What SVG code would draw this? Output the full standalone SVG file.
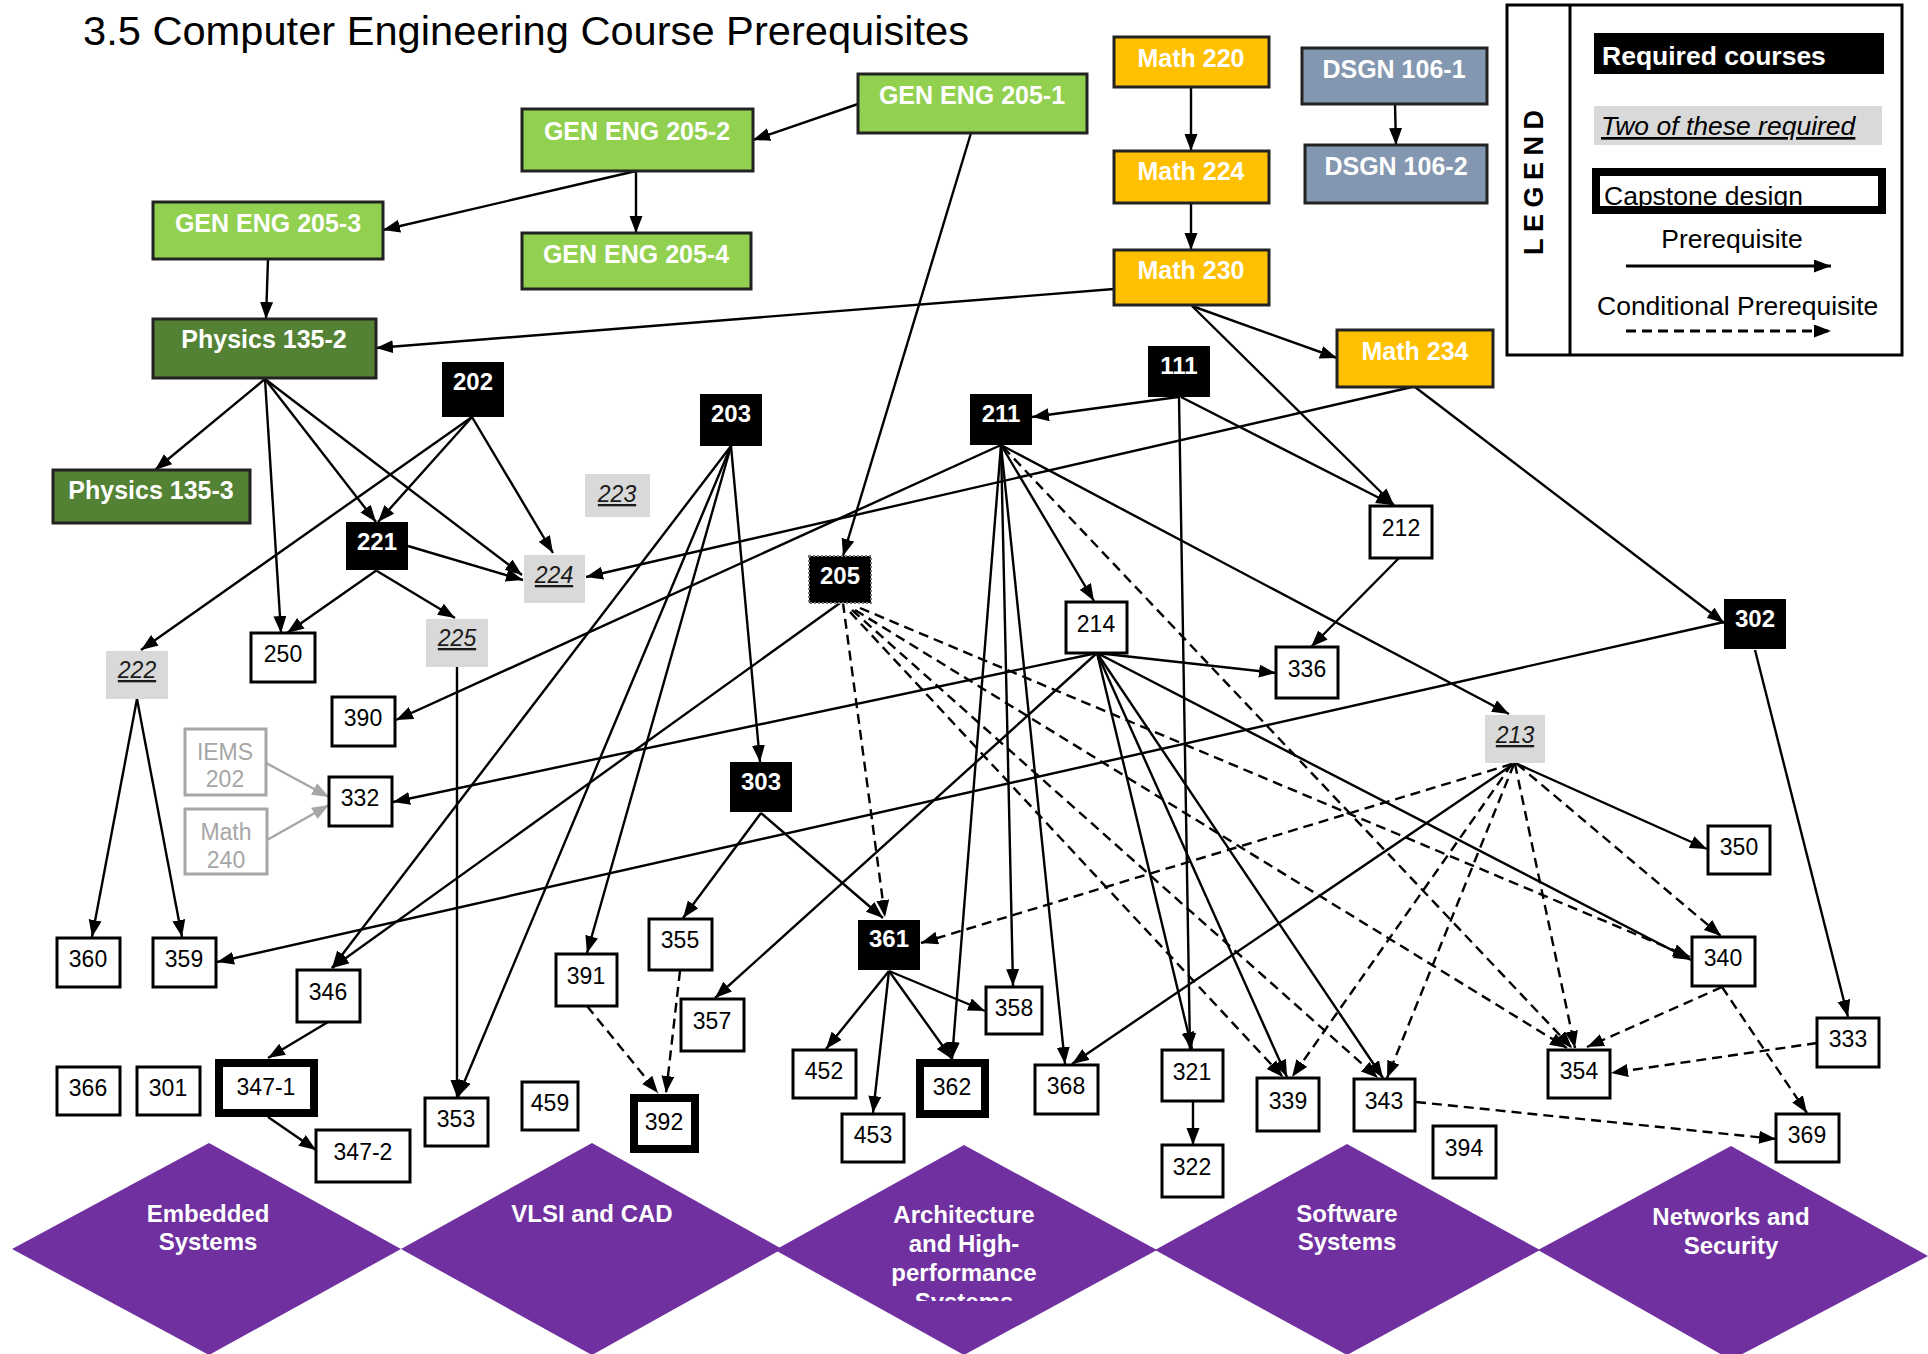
<svg xmlns="http://www.w3.org/2000/svg" width="1928" height="1354" viewBox="0 0 1928 1354">
<defs>
<style>
text{font-family:"Liberation Sans",Arial,sans-serif}
.t{font-size:40px;fill:#000}
.cb rect{stroke:#222;stroke-width:3}
.cb text{font-size:25px;font-weight:bold;fill:#fff;text-anchor:middle}
.ge rect{fill:#92d050}
.ph rect{fill:#548235}
.ma rect{fill:#ffc000}
.ds rect{fill:#8497b0}
.rq rect{fill:#000}
.rq text{font-size:24px;font-weight:bold;fill:#fff;text-anchor:middle}
.wn rect{fill:#fff;stroke:#000;stroke-width:3}
.wn text,.cp text{font-size:23px;fill:#000;text-anchor:middle}
.op rect{fill:#d9d9d9}
.op text{font-size:23px;font-style:italic;text-decoration:underline;fill:#1a1a1a;text-anchor:middle}
.cp rect{fill:#fff;stroke:#000;stroke-width:8}
.gy rect{fill:#fff;stroke:#a6a6a6;stroke-width:3}
.gy text{font-size:23px;fill:#a6a6a6;text-anchor:middle}
.dm polygon{fill:#7030a0}
.dm text{font-size:24px;font-weight:bold;fill:#fff;text-anchor:middle}
.s{stroke:#000;stroke-width:2.4;fill:none;marker-end:url(#a)}
.d{stroke:#000;stroke-width:2.4;fill:none;stroke-dasharray:10 6;marker-end:url(#a)}
.g{stroke:#a6a6a6;stroke-width:2.4;fill:none;marker-end:url(#ag)}
.lg text{font-size:26.5px;fill:#000}
</style>
<marker id="a" markerUnits="userSpaceOnUse" markerWidth="18" markerHeight="14" refX="17" refY="6.5" orient="auto"><path d="M0,0 L17,6.5 L0,13 z" fill="#000"/></marker>
<marker id="ag" markerUnits="userSpaceOnUse" markerWidth="18" markerHeight="14" refX="17" refY="6.5" orient="auto"><path d="M0,0 L17,6.5 L0,13 z" fill="#a6a6a6"/></marker>
<clipPath id="clipArch"><rect x="760" y="1140" width="410" height="161"/></clipPath>
</defs>

<rect width="1928" height="1354" fill="#fff"/>

<text class="t" x="83" y="45" textLength="886" lengthAdjust="spacingAndGlyphs">3.5 Computer Engineering Course Prerequisites</text>

<g id="tracks" class="dm">
<g id="track-embedded"><polygon points="209,1143 401,1249 209,1355 12,1249"/><text x="208" y="1222">Embedded</text><text x="208" y="1250">Systems</text></g>
<g id="track-vlsi"><polygon points="592,1143 782,1249 592,1355 401,1249"/><text x="592" y="1222">VLSI and CAD</text></g>
<g id="track-arch"><polygon points="964,1145 1157,1250 964,1355 775,1250"/><g clip-path="url(#clipArch)"><text x="964" y="1223">Architecture</text><text x="964" y="1252">and High-</text><text x="964" y="1281">performance</text><text x="964" y="1310">Systems</text></g></g>
<g id="track-software"><polygon points="1347,1144 1540,1250 1347,1355 1155,1250"/><text x="1347" y="1222">Software</text><text x="1347" y="1250">Systems</text></g>
<g id="track-networks"><polygon points="1731,1146 1928,1256 1731,1360 1538,1250"/><text x="1731" y="1225">Networks and</text><text x="1731" y="1254">Security</text></g>
</g>

<g id="connectors">
<line class="s" x1="858" y1="104" x2="753" y2="140"/>
<line class="s" x1="636" y1="171" x2="383" y2="230"/>
<line class="s" x1="636" y1="171" x2="636" y2="233"/>
<line class="s" x1="268" y1="259" x2="266" y2="319"/>
<line class="s" x1="971" y1="133" x2="843" y2="556"/>
<line class="s" x1="1114" y1="289" x2="376" y2="348"/>
<line class="s" x1="1191" y1="87" x2="1191" y2="151"/>
<line class="s" x1="1191" y1="203" x2="1191" y2="250"/>
<line class="s" x1="1395" y1="104" x2="1396" y2="145"/>
<line class="s" x1="1192" y1="306" x2="1337" y2="358"/>
<line class="s" x1="1192" y1="306" x2="1394" y2="505"/>
<line class="s" x1="1415" y1="387" x2="1724" y2="623"/>
<line class="s" x1="1412" y1="387" x2="586" y2="577"/>
<line class="s" x1="1178" y1="397" x2="1032" y2="417"/>
<line class="s" x1="1181" y1="397" x2="1393" y2="505"/>
<line class="s" x1="1179" y1="397" x2="1190" y2="1050"/>
<line class="s" x1="1399" y1="558" x2="1311" y2="647"/>
<line class="s" x1="265" y1="379" x2="155" y2="470"/>
<line class="s" x1="265" y1="379" x2="281" y2="633"/>
<line class="s" x1="265" y1="379" x2="376" y2="522"/>
<line class="s" x1="265" y1="379" x2="522" y2="575"/>
<line class="s" x1="472" y1="417" x2="378" y2="522"/>
<line class="s" x1="472" y1="417" x2="141" y2="650"/>
<line class="s" x1="472" y1="417" x2="553" y2="553"/>
<line class="s" x1="408" y1="546" x2="523" y2="580"/>
<line class="s" x1="377" y1="570" x2="287" y2="633"/>
<line class="s" x1="377" y1="571" x2="455" y2="618"/>
<line class="s" x1="457" y1="667" x2="457" y2="1097"/>
<line class="s" x1="137" y1="699" x2="92" y2="937"/>
<line class="s" x1="137" y1="699" x2="182" y2="937"/>
<line class="s" x1="731" y1="446" x2="760" y2="762"/>
<line class="s" x1="731" y1="446" x2="332" y2="968"/>
<line class="s" x1="731" y1="446" x2="458" y2="1097"/>
<line class="s" x1="731" y1="446" x2="587" y2="953"/>
<line class="s" x1="1001" y1="445" x2="396" y2="720"/>
<line class="s" x1="1001" y1="445" x2="1094" y2="601"/>
<line class="s" x1="1001" y1="445" x2="1509" y2="714"/>
<line class="s" x1="1001" y1="445" x2="1013" y2="986"/>
<line class="s" x1="1001" y1="445" x2="952" y2="1059"/>
<line class="s" x1="1001" y1="445" x2="1065" y2="1064"/>
<line class="s" x1="840" y1="603" x2="332" y2="968"/>
<line class="s" x1="1097" y1="653" x2="1276" y2="673"/>
<line class="s" x1="1097" y1="653" x2="393" y2="802"/>
<line class="s" x1="1097" y1="653" x2="715" y2="998"/>
<line class="s" x1="1097" y1="653" x2="1192" y2="1049"/>
<line class="s" x1="1097" y1="653" x2="1287" y2="1077"/>
<line class="s" x1="1097" y1="653" x2="1691" y2="960"/>
<line class="s" x1="1097" y1="653" x2="1383" y2="1078"/>
<line class="s" x1="1755" y1="650" x2="1848" y2="1017"/>
<line class="s" x1="1724" y1="622" x2="217" y2="962"/>
<line class="s" x1="1515" y1="763" x2="1707" y2="849"/>
<line class="s" x1="1515" y1="763" x2="1072" y2="1064"/>
<line class="s" x1="761" y1="813" x2="683" y2="918"/>
<line class="s" x1="761" y1="813" x2="883" y2="918"/>
<line class="s" x1="889" y1="971" x2="826" y2="1049"/>
<line class="s" x1="889" y1="971" x2="873" y2="1113"/>
<line class="s" x1="889" y1="971" x2="952" y2="1059"/>
<line class="s" x1="889" y1="971" x2="985" y2="1011"/>
<line class="s" x1="1193" y1="1102" x2="1193" y2="1145"/>
<line class="s" x1="328" y1="1022" x2="268" y2="1058"/>
<line class="s" x1="268" y1="1117" x2="316" y2="1150"/>
<line class="g" x1="266" y1="763" x2="329" y2="797"/>
<line class="g" x1="267" y1="840" x2="329" y2="805"/>
<line class="d" x1="843" y1="603" x2="885" y2="917"/>
<line class="d" x1="860" y1="608" x2="1690" y2="957"/>
<line class="d" x1="855" y1="610" x2="1567" y2="1048"/>
<line class="d" x1="850" y1="612" x2="1283" y2="1077"/>
<line class="d" x1="852" y1="610" x2="1378" y2="1078"/>
<line class="d" x1="1003" y1="447" x2="1572" y2="1048"/>
<line class="d" x1="1512" y1="764" x2="921" y2="943"/>
<line class="d" x1="1512" y1="764" x2="1292" y2="1077"/>
<line class="d" x1="1514" y1="764" x2="1387" y2="1078"/>
<line class="d" x1="1517" y1="764" x2="1721" y2="936"/>
<line class="d" x1="1515" y1="764" x2="1575" y2="1048"/>
<line class="d" x1="1722" y1="987" x2="1587" y2="1047"/>
<line class="d" x1="1722" y1="987" x2="1807" y2="1113"/>
<line class="d" x1="1817" y1="1043" x2="1611" y2="1073"/>
<line class="d" x1="1416" y1="1102" x2="1776" y2="1139"/>
<line class="d" x1="680" y1="971" x2="666" y2="1093"/>
<line class="d" x1="587" y1="1006" x2="658" y2="1093"/>
</g>

<g id="nodes">
<g id="n-ge2051" class="cb ge"><rect x="858" y="74" width="229" height="59"/><text x="972" y="104">GEN ENG 205-1</text></g>
<g id="n-ge2052" class="cb ge"><rect x="522" y="109" width="231" height="62"/><text x="637" y="140">GEN ENG 205-2</text></g>
<g id="n-ge2053" class="cb ge"><rect x="153" y="202" width="230" height="57"/><text x="268" y="232">GEN ENG 205-3</text></g>
<g id="n-ge2054" class="cb ge"><rect x="522" y="233" width="229" height="56"/><text x="636" y="263">GEN ENG 205-4</text></g>
<g id="n-ph1352" class="cb ph"><rect x="153" y="319" width="223" height="59"/><text x="264" y="348">Physics 135-2</text></g>
<g id="n-ph1353" class="cb ph"><rect x="53" y="470" width="197" height="53"/><text x="151" y="499">Physics 135-3</text></g>
<g id="n-ma220" class="cb ma"><rect x="1114" y="37" width="155" height="50"/><text x="1191" y="67">Math 220</text></g>
<g id="n-ma224" class="cb ma"><rect x="1114" y="151" width="155" height="52"/><text x="1191" y="180">Math 224</text></g>
<g id="n-ma230" class="cb ma"><rect x="1114" y="250" width="155" height="55"/><text x="1191" y="279">Math 230</text></g>
<g id="n-ma234" class="cb ma"><rect x="1337" y="330" width="156" height="57"/><text x="1415" y="360">Math 234</text></g>
<g id="n-ds1061" class="cb ds"><rect x="1302" y="48" width="185" height="56"/><text x="1394" y="78">DSGN 106-1</text></g>
<g id="n-ds1062" class="cb ds"><rect x="1305" y="145" width="182" height="58"/><text x="1396" y="175">DSGN 106-2</text></g>

<g id="n-202" class="rq"><rect x="442" y="362" width="62" height="55"/><text x="473" y="390">202</text></g>
<g id="n-203" class="rq"><rect x="700" y="394" width="62" height="52"/><text x="731" y="422">203</text></g>
<g id="n-111" class="rq"><rect x="1148" y="346" width="62" height="51"/><text x="1179" y="374">111</text></g>
<g id="n-211" class="rq"><rect x="970" y="394" width="62" height="51"/><text x="1001" y="422">211</text></g>
<g id="n-221" class="rq"><rect x="346" y="522" width="62" height="48"/><text x="377" y="550">221</text></g>
<g id="n-205" class="rq"><rect x="809" y="556" width="62" height="47" stroke="#777" stroke-width="2" stroke-dasharray="2 2"/><text x="840" y="584">205</text></g>
<g id="n-303" class="rq"><rect x="730" y="762" width="62" height="50"/><text x="761" y="790">303</text></g>
<g id="n-302" class="rq"><rect x="1724" y="599" width="62" height="50"/><text x="1755" y="627">302</text></g>
<g id="n-361" class="rq"><rect x="858" y="920" width="62" height="50"/><text x="889" y="947">361</text></g>

<g id="n-223" class="op"><rect x="585" y="474" width="65" height="43"/><text x="617" y="502">223</text></g>
<g id="n-224" class="op"><rect x="524" y="555" width="61" height="48"/><text x="554" y="583">224</text></g>
<g id="n-222" class="op"><rect x="106" y="651" width="62" height="48"/><text x="137" y="678">222</text></g>
<g id="n-225" class="op"><rect x="426" y="619" width="62" height="48"/><text x="457" y="646">225</text></g>
<g id="n-213" class="op"><rect x="1485" y="715" width="60" height="48"/><text x="1515" y="743">213</text></g>

<g id="n-iems202" class="gy"><rect x="185" y="729" width="81" height="66"/><text x="225" y="760">IEMS</text><text x="225" y="787">202</text></g>
<g id="n-math240" class="gy"><rect x="185" y="809" width="82" height="65"/><text x="226" y="840">Math</text><text x="226" y="868">240</text></g>

<g id="n-250" class="wn"><rect x="251" y="633" width="64" height="49"/><text x="283" y="662">250</text></g>
<g id="n-390" class="wn"><rect x="332" y="697" width="63" height="49"/><text x="363" y="726">390</text></g>
<g id="n-332" class="wn"><rect x="329" y="777" width="63" height="49"/><text x="360" y="806">332</text></g>
<g id="n-212" class="wn"><rect x="1370" y="506" width="62" height="52"/><text x="1401" y="536">212</text></g>
<g id="n-214" class="wn"><rect x="1066" y="602" width="61" height="51"/><text x="1096" y="632">214</text></g>
<g id="n-336" class="wn"><rect x="1276" y="647" width="62" height="51"/><text x="1307" y="677">336</text></g>
<g id="n-350" class="wn"><rect x="1708" y="826" width="62" height="48"/><text x="1739" y="855">350</text></g>
<g id="n-340" class="wn"><rect x="1692" y="937" width="63" height="49"/><text x="1723" y="966">340</text></g>
<g id="n-360" class="wn"><rect x="57" y="938" width="63" height="49"/><text x="88" y="967">360</text></g>
<g id="n-359" class="wn"><rect x="153" y="938" width="63" height="49"/><text x="184" y="967">359</text></g>
<g id="n-346" class="wn"><rect x="297" y="970" width="63" height="52"/><text x="328" y="1000">346</text></g>
<g id="n-391" class="wn"><rect x="556" y="954" width="61" height="52"/><text x="586" y="984">391</text></g>
<g id="n-355" class="wn"><rect x="649" y="919" width="63" height="51"/><text x="680" y="948">355</text></g>
<g id="n-357" class="wn"><rect x="681" y="999" width="63" height="52"/><text x="712" y="1029">357</text></g>
<g id="n-358" class="wn"><rect x="986" y="987" width="56" height="47"/><text x="1014" y="1016">358</text></g>
<g id="n-452" class="wn"><rect x="793" y="1050" width="63" height="48"/><text x="824" y="1079">452</text></g>
<g id="n-453" class="wn"><rect x="842" y="1114" width="62" height="48"/><text x="873" y="1143">453</text></g>
<g id="n-366" class="wn"><rect x="57" y="1067" width="63" height="48"/><text x="88" y="1096">366</text></g>
<g id="n-301" class="wn"><rect x="137" y="1067" width="63" height="48"/><text x="168" y="1096">301</text></g>
<g id="n-3472" class="wn"><rect x="316" y="1130" width="94" height="52"/><text x="363" y="1160">347-2</text></g>
<g id="n-353" class="wn"><rect x="425" y="1098" width="63" height="48"/><text x="456" y="1127">353</text></g>
<g id="n-459" class="wn"><rect x="522" y="1082" width="56" height="48"/><text x="550" y="1111">459</text></g>
<g id="n-368" class="wn"><rect x="1035" y="1065" width="63" height="49"/><text x="1066" y="1094">368</text></g>
<g id="n-321" class="wn"><rect x="1162" y="1050" width="61" height="51"/><text x="1192" y="1080">321</text></g>
<g id="n-322" class="wn"><rect x="1162" y="1145" width="61" height="52"/><text x="1192" y="1175">322</text></g>
<g id="n-339" class="wn"><rect x="1257" y="1078" width="62" height="53"/><text x="1288" y="1109">339</text></g>
<g id="n-343" class="wn"><rect x="1354" y="1079" width="61" height="52"/><text x="1384" y="1109">343</text></g>
<g id="n-394" class="wn"><rect x="1433" y="1126" width="63" height="52"/><text x="1464" y="1156">394</text></g>
<g id="n-354" class="wn"><rect x="1548" y="1050" width="62" height="48"/><text x="1579" y="1079">354</text></g>
<g id="n-333" class="wn"><rect x="1817" y="1018" width="62" height="49"/><text x="1848" y="1047">333</text></g>
<g id="n-369" class="wn"><rect x="1776" y="1114" width="63" height="48"/><text x="1807" y="1143">369</text></g>

<g id="n-3471" class="cp"><rect x="219" y="1063" width="95" height="50"/><text x="266" y="1095">347-1</text></g>
<g id="n-362" class="cp"><rect x="920" y="1063" width="65" height="51"/><text x="952" y="1095">362</text></g>
<g id="n-392" class="cp"><rect x="634" y="1098" width="61" height="51"/><text x="664" y="1130">392</text></g>
</g>

<g id="legend" class="lg">
<rect x="1507" y="5" width="395" height="350" fill="#fff" stroke="#000" stroke-width="3"/>
<line x1="1570" y1="5" x2="1570" y2="355" stroke="#000" stroke-width="3"/>
<text transform="translate(1543,255) rotate(-90)" style="font-size:27px" font-weight="bold" letter-spacing="6.5">LEGEND</text>
<rect x="1594" y="33" width="290" height="41" fill="#000"/>
<text x="1602" y="65" font-weight="bold" style="fill:#fff">Required courses</text>
<rect x="1594" y="106" width="288" height="39" fill="#d9d9d9"/>
<text x="1601" y="135" font-style="italic" text-decoration="underline">Two of these required</text>
<rect x="1596" y="172" width="286" height="38" fill="#fff"/>
<text x="1604" y="205">Capstone design</text>
<rect x="1596" y="172" width="286" height="38" fill="none" stroke="#000" stroke-width="8"/>
<text x="1732" y="248" text-anchor="middle">Prerequisite</text>
<line x1="1626" y1="266" x2="1831" y2="266" stroke="#000" stroke-width="3" marker-end="url(#a)"/>
<text x="1597" y="315">Conditional Prerequisite</text>
<line x1="1626" y1="331" x2="1831" y2="331" stroke="#000" stroke-width="3" stroke-dasharray="10 6" marker-end="url(#a)"/>
</g>
</svg>
